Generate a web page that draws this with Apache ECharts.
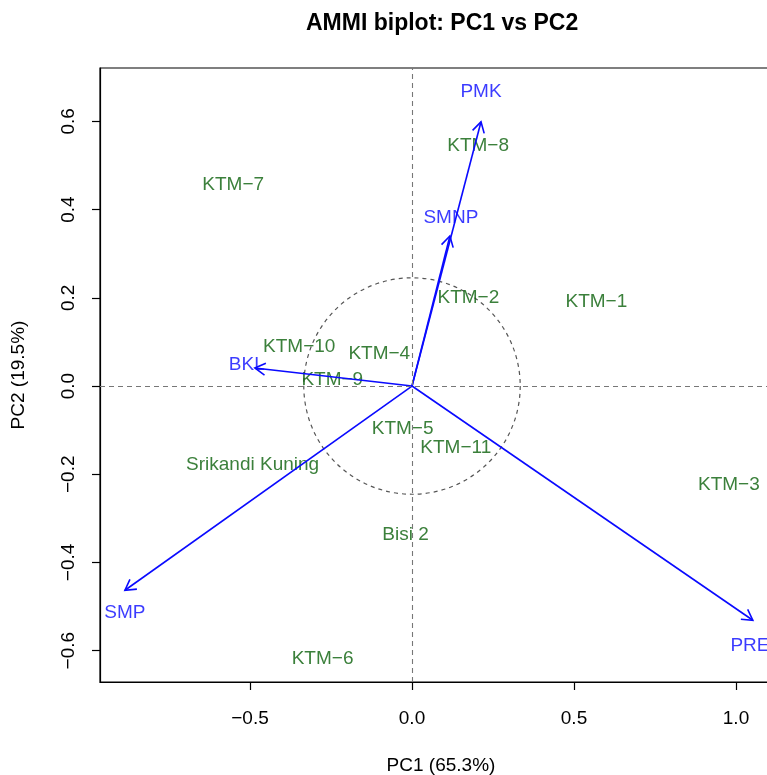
<!DOCTYPE html>
<html>
<head>
<meta charset="utf-8">
<title>AMMI biplot</title>
<script src="https://cdn.jsdelivr.net/npm/echarts@6/dist/echarts.min.js"></script>
<style>
  html, body { margin: 0; padding: 0; background: #fff; overflow: hidden; }
  #container { width: 767px; height: 775px; }
</style>
</head>
<body>
<div id="container"></div>
<script>
// genotypes (text at their PC1/PC2 scores)
var genoNames = ['KTM\u22128', 'KTM\u22127', 'KTM\u22122', 'KTM\u22121', 'KTM\u221210', 'KTM\u22124', 'KTM\u22129',
                 'KTM\u22125', 'KTM\u221211', 'Srikandi Kuning', 'KTM\u22123', 'Bisi 2', 'KTM\u22126'];
var genoPC1 = [0.204, -0.552, 0.174, 0.569, -0.348, -0.101, -0.246, -0.029, 0.135, -0.492, 0.978, -0.020, -0.276];
var genoPC2 = [0.544, 0.456, 0.199, 0.190, 0.089, 0.074, 0.014, -0.096, -0.139, -0.179, -0.224, -0.338, -0.618];

// environments: arrow tips and label positions
var envNames = ['PMK', 'SMNP', 'BKL', 'SMP', 'PRE'];
var envPC1 = [0.213, 0.117, -0.485, -0.886, 1.052];
var envPC2 = [0.599, 0.340, 0.041, -0.463, -0.531];
var envLabPC1 = [0.213, 0.120, -0.510, -0.886, 1.043];
var envLabPC2 = [0.667, 0.381, 0.048, -0.514, -0.589];

var xTicks = [-0.5, 0.0, 0.5, 1.0];
var yTicks = [-0.6, -0.4, -0.2, 0.0, 0.2, 0.4, 0.6];
var circleRadius = 0.334;

var green = '#0a600a';
var blue = '#0a0aff';
var font = "'Liberation Sans', Arial, sans-serif";

function fmt(v) {
    var s = Math.abs(v).toFixed(1);
    return v < 0 ? '\u2212' + s : s;
}

var dom = document.getElementById('container');
var myChart = echarts.init(dom);

var genoData = genoNames.map(function (n, i) {
    return { name: n, value: [genoPC1[i], genoPC2[i]] };
});
var envArrows = envNames.map(function (n, i) {
    return [envPC1[i], envPC2[i]];
});
var envLabels = envNames.map(function (n, i) {
    return { name: n, value: [envLabPC1[i], envLabPC2[i]] };
});

var option = {
    animation: false,
    textStyle: { fontFamily: font },
    title: {
        text: 'AMMI biplot: PC1 vs PC2',
        left: 301,
        top: 7,
        textStyle: { fontSize: 23, fontWeight: 'bold', color: '#000', fontFamily: font }
    },
    grid: {
        left: 100, top: 68, width: 682, height: 614,
        outerBoundsMode: 'none',
        show: true, borderColor: '#000', borderWidth: 1.2, backgroundColor: 'transparent'
    },
    xAxis: {
        type: 'value',
        min: -0.963, max: 1.142,
        name: 'PC1 (65.3%)',
        nameLocation: 'middle',
        nameGap: 74,
        nameTextStyle: { fontSize: 19, color: '#000', fontFamily: font },
        axisLine: { show: true, onZero: false, lineStyle: { color: '#000', width: 1.2 } },
        axisTick: { show: true, inside: false, length: 8, customValues: xTicks, lineStyle: { color: '#000', width: 1.2 } },
        axisLabel: { customValues: xTicks, margin: 27, fontSize: 19, color: '#000', formatter: fmt },
        splitLine: { show: false }
    },
    yAxis: {
        type: 'value',
        min: -0.671, max: 0.721,
        name: 'PC2 (19.5%)',
        nameLocation: 'middle',
        nameGap: 72,
        nameRotate: 90,
        nameTextStyle: { fontSize: 19, color: '#000', fontFamily: font },
        axisLine: { show: true, onZero: false, lineStyle: { color: '#000', width: 1.2 } },
        axisTick: { show: true, inside: false, length: 8, customValues: yTicks, lineStyle: { color: '#000', width: 1.2 } },
        axisLabel: { customValues: yTicks, margin: 22, rotate: 90, fontSize: 19, color: '#000', formatter: fmt },
        splitLine: { show: false }
    },
    series: [
        {
            // dashed reference circle
            type: 'custom',
            silent: true,
            data: [[0, 0]],
            renderItem: function (params, api) {
                var c = api.coord([api.value(0), api.value(1)]);
                var r = api.size([circleRadius, 0])[0];
                return {
                    type: 'circle',
                    shape: { cx: c[0], cy: c[1], r: r },
                    style: { fill: null, stroke: '#555', lineWidth: 1.2, lineDash: [4, 4] }
                };
            },
            markLine: {
                silent: true,
                symbol: ['none', 'none'],
                label: { show: false },
                lineStyle: { color: '#777', type: [5, 4], width: 1.1 },
                data: [{ xAxis: 0 }, { yAxis: 0 }]
            },
            z: 1
        },
        {
            name: 'genotypes',
            type: 'scatter',
            symbolSize: 0,
            data: genoData,
            label: {
                show: true,
                position: 'inside',
                formatter: function (p) { return p.name; },
                fontSize: 19,
                color: green,
                fontFamily: font
            },
            z: 2
        },
        {
            name: 'environments',
            type: 'custom',
            data: envArrows,
            renderItem: function (params, api) {
                var o = api.coord([0, 0]);
                var p = api.coord([api.value(0), api.value(1)]);
                var ang = Math.atan2(p[1] - o[1], p[0] - o[0]);
                var h = 12, a = Math.PI / 6;
                var l = [p[0] - h * Math.cos(ang - a), p[1] - h * Math.sin(ang - a)];
                var r = [p[0] - h * Math.cos(ang + a), p[1] - h * Math.sin(ang + a)];
                return {
                    type: 'group',
                    children: [
                        { type: 'line', shape: { x1: o[0], y1: o[1], x2: p[0], y2: p[1] },
                          style: { stroke: blue, lineWidth: 1.6 } },
                        { type: 'polyline', shape: { points: [l, p, r] },
                          style: { stroke: blue, fill: null, lineWidth: 1.6 } }
                    ]
                };
            },
            z: 3
        },
        {
            name: 'envLabels',
            type: 'scatter',
            symbolSize: 0,
            data: envLabels,
            label: {
                show: true,
                position: 'inside',
                formatter: function (p) { return p.name; },
                fontSize: 19,
                color: blue,
                fontFamily: font
            },
            z: 3
        }
    ]
};

if (option && typeof option === 'object') {
    myChart.setOption(option, true);
}
</script>
</body>
</html>
